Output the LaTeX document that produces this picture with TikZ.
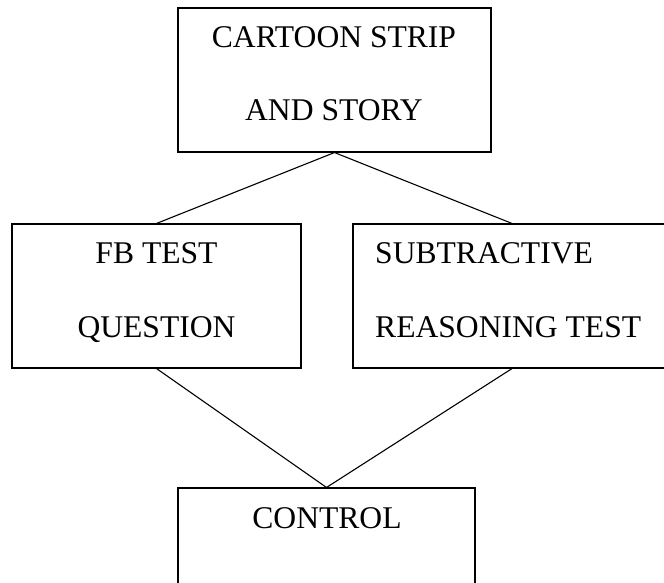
\documentclass[tikz,border=0pt]{standalone}
\usepackage{fontspec}
\setmainfont{Liberation Serif}
\begin{document}
\begin{tikzpicture}[x=1pt,y=-1pt,
  box/.style={draw=black,line width=1.1pt,rectangle,inner sep=0pt},
  lbl/.style={inner sep=0pt,font=\fontsize{31.6}{38}\selectfont},
  link/.style={draw=black,line width=1.1pt}]
\useasboundingbox (0,0) rectangle (664,583);
\clip (0,0) rectangle (664,583);
\node[box,minimum width=313pt,minimum height=144pt] (top) at (334.5,80) {};
\node[box,minimum width=289pt,minimum height=144pt] (fb) at (156.5,296) {};
\node[box,minimum width=318pt,minimum height=144pt] (sr) at (512,296) {};
\node[box,minimum width=297pt,minimum height=132pt] (ctl) at (326.5,554) {};
\node[lbl,anchor=base] (t1) at (334,48) {CARTOON STRIP};
\node[lbl,anchor=base] (t2) at (334,121) {AND STORY};
\node[lbl,anchor=base] (f1) at (156.5,263) {FB TEST};
\node[lbl,anchor=base] (f2) at (156.5,337) {QUESTION};
\node[lbl,anchor=base west] (s1) at (375,263) {SUBTRACTIVE};
\node[lbl,anchor=base west] (s2) at (375,337) {REASONING TEST};
\node[lbl,anchor=base] (c1) at (327,528) {CONTROL};
\draw[link] (top.south) -- (fb.north);
\draw[link] (top.south) -- (sr.north);
\draw[link] (fb.south) -- (ctl.north);
\draw[link] (sr.south) -- (ctl.north);
\end{tikzpicture}
\end{document}
